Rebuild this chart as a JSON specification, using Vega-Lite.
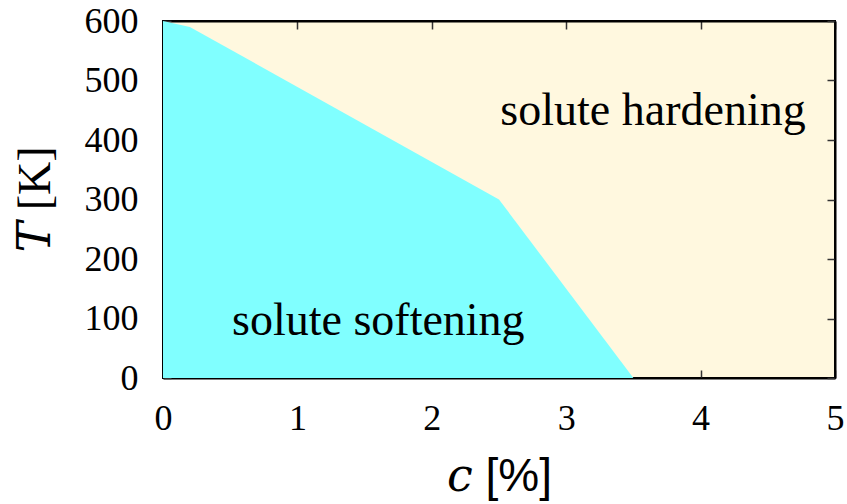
{
  "$schema": "https://vega.github.io/schema/vega-lite/v6.json",
  "width": 672,
  "height": 357,
  "autosize": "none",
  "padding": {"left": 163, "top": 21, "right": 12, "bottom": 126},
  "background": "white",
  "config": {
    "view": {"stroke": "black", "strokeWidth": 2, "fill": "#FFF8DF"},
    "font": "Liberation Serif",
    "axis": {
      "grid": false,
      "domainColor": "black",
      "domainWidth": 2,
      "tickColor": "#333333",
      "tickWidth": 1.5,
      "tickSize": -8,
      "labelFont": "Liberation Serif",
      "labelFontSize": 36,
      "labelColor": "black",
      "labelFlush": false,
      "titleFont": "Liberation Serif, DejaVu Serif",
      "titleFontSize": 46,
      "titleFontWeight": "normal",
      "titleColor": "black"
    }
  },
  "datasets": {
    "boundary": [
      {"c": 0, "T": 600},
      {"c": 0.2, "T": 590},
      {"c": 2.5, "T": 300},
      {"c": 3.5, "T": 0}
    ],
    "regions": [
      {"c": 3.646, "T": 425, "label": "solute hardening"},
      {"c": 1.602, "T": 72, "label": "solute softening"}
    ]
  },
  "layer": [
    {
      "data": {"name": "boundary"},
      "mark": {"type": "area", "color": "#80FFFF", "opacity": 1},
      "encoding": {
        "x": {
          "field": "c", "type": "quantitative",
          "scale": {"domain": [0, 5], "nice": false, "zero": false},
          "axis": {
            "orient": "bottom",
            "values": [0, 1, 2, 3, 4, 5],
            "format": "d",
            "labelPadding": 31,
            "title": "𝑐 [%]",
            "titleFont": "Liberation Sans, DejaVu Serif",
            "titleX": 336,
            "titleY": 112,
            "titleBaseline": "alphabetic",
            "titleAnchor": "middle"
          }
        },
        "y": {
          "field": "T", "type": "quantitative",
          "scale": {"domain": [0, 600], "nice": false},
          "axis": {
            "orient": "left",
            "values": [0, 100, 200, 300, 400, 500, 600],
            "format": "d",
            "labelPadding": 33,
            "title": "𝑇 [K]",
            "titleAngle": -90,
            "titleX": -128,
            "titleY": 178,
            "titleBaseline": "middle",
            "titleAlign": "center"
          }
        }
      }
    },
    {
      "data": {"name": "regions"},
      "mark": {"type": "text", "font": "Liberation Serif", "fontSize": 46, "baseline": "alphabetic", "align": "center", "color": "black"},
      "encoding": {
        "x": {
          "field": "c", "type": "quantitative",
          "scale": {"domain": [0, 5], "nice": false, "zero": false},
          "axis": {"orient": "top", "values": [0, 1, 2, 3, 4, 5], "labels": false, "title": null}
        },
        "y": {
          "field": "T", "type": "quantitative",
          "scale": {"domain": [0, 600], "nice": false},
          "axis": {"orient": "right", "values": [0, 100, 200, 300, 400, 500, 600], "labels": false, "title": null}
        },
        "text": {"field": "label"}
      }
    }
  ],
  "resolve": {"axis": {"x": "independent", "y": "independent"}}
}
